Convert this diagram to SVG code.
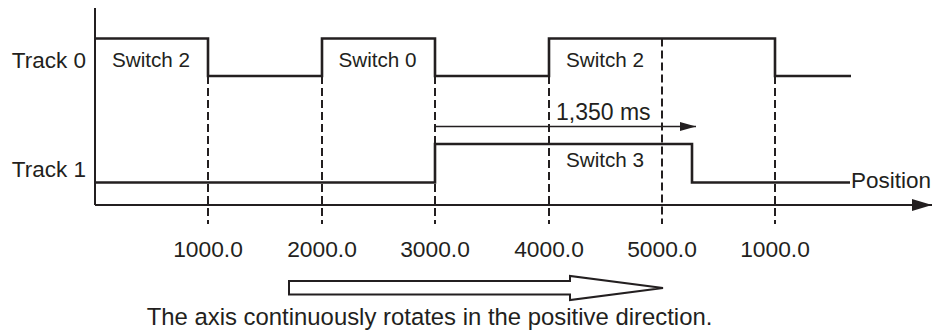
<svg xmlns="http://www.w3.org/2000/svg" width="937" height="333" viewBox="0 0 937 333">
<style>
text{font-family:"Liberation Sans",Arial,sans-serif;fill:#231f20}
.lbl{font-size:22.5px}
.sw{font-size:20.7px;text-anchor:middle}
.tick{font-size:22.8px;text-anchor:middle}
.sig{fill:none;stroke:#231f20;stroke-width:2.6;stroke-linejoin:miter}
.axis{fill:none;stroke:#231f20;stroke-width:2}
.dash{fill:none;stroke:#231f20;stroke-width:2;stroke-dasharray:8 4}
</style>
<defs>
<marker id="ah" markerUnits="userSpaceOnUse" markerWidth="22" markerHeight="14" refX="20" refY="7" orient="auto">
<path d="M0,1 L20,7 L0,13 Z" fill="#231f20"/>
</marker>
<marker id="ahs" markerUnits="userSpaceOnUse" markerWidth="18" markerHeight="12" refX="16" refY="6" orient="auto">
<path d="M0,1.5 L16,6 L0,10.5 Z" fill="#231f20"/>
</marker>
</defs>
<g id="axes">
<line class="axis" x1="95" y1="8" x2="95" y2="205"/>
<line class="axis" x1="95" y1="205" x2="932" y2="205" marker-end="url(#ah)"/>
</g>
<g id="track0">
<text class="lbl" x="86" y="68" text-anchor="end">Track 0</text>
<polyline class="sig" points="95,38.5 208,38.5 208,76 322,76 322,38.5 435,38.5 435,76 549,76 549,38.5 775,38.5 775,76 851,76"/>
<text class="sw" x="151" y="67">Switch 2</text>
<text class="sw" x="377.5" y="67">Switch 0</text>
<text class="sw" x="605" y="67">Switch 2</text>
</g>
<g id="track1">
<text class="lbl" x="86" y="177" text-anchor="end">Track 1</text>
<polyline class="sig" points="95,182.5 435,182.5 435,144 692,144 692,182.5 850,182.5"/>
<text class="sw" x="605" y="167">Switch 3</text>
<text class="lbl" x="851" y="188">Position</text>
</g>
<g id="connectors">
<line class="dash" x1="208" y1="76" x2="208" y2="224"/>
<line class="dash" x1="322" y1="76" x2="322" y2="224"/>
<line class="dash" x1="435" y1="76" x2="435" y2="224"/>
<line class="dash" x1="549" y1="76" x2="549" y2="224"/>
<line class="dash" x1="662" y1="38.5" x2="662" y2="224"/>
<line class="dash" x1="775" y1="76" x2="775" y2="224"/>
<line class="axis" style="stroke-width:1.6" x1="435" y1="126.5" x2="696" y2="126.5" marker-end="url(#ahs)"/>
</g>
<g id="interval">
<text class="lbl" x="556" y="119.5" style="font-size:23px">1,350 ms</text>
</g>
<g id="ticks">
<text class="tick" x="208" y="256.5">1000.0</text>
<text class="tick" x="322" y="256.5">2000.0</text>
<text class="tick" x="435" y="256.5">3000.0</text>
<text class="tick" x="549" y="256.5">4000.0</text>
<text class="tick" x="662" y="256.5">5000.0</text>
<text class="tick" x="775" y="256.5">1000.0</text>
</g>
<g id="direction">
<polygon points="289,281 570,281 570,276 663,288 570,300 570,294.5 289,294.5" fill="#fff" stroke="#231f20" stroke-width="2"/>
<text x="429.5" y="325" text-anchor="middle" style="font-size:23.9px">The axis continuously rotates in the positive direction.</text>
</g>
</svg>
